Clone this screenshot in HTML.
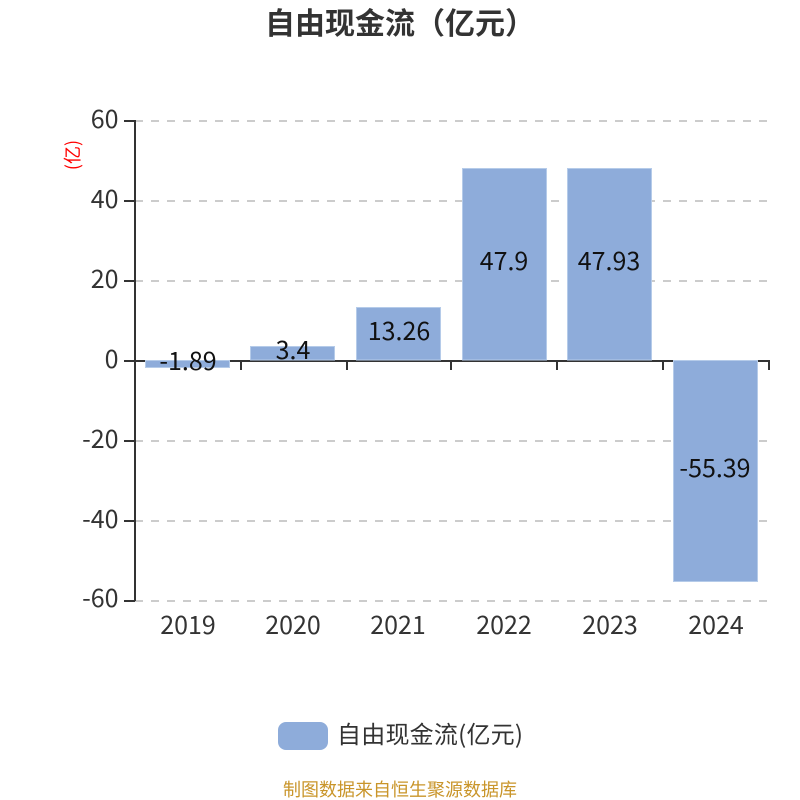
<!DOCTYPE html>
<html><head><meta charset="utf-8">
<style>
html,body{margin:0;padding:0;background:#fff;width:800px;height:800px;overflow:hidden}
svg{display:block}
text{font-family:"Liberation Sans","Noto Sans CJK SC",sans-serif}
.n{font-family:"Noto Sans CJK SC","Liberation Sans",sans-serif}
</style></head><body>
<svg width="800" height="800" viewBox="0 0 800 800" xmlns="http://www.w3.org/2000/svg">
<text x="400" y="34" text-anchor="middle" font-size="30" font-weight="bold" fill="#333" style='font-family:"Noto Sans CJK SC",sans-serif'>自由现金流（亿元）</text>
<text transform="translate(79,155) rotate(-90)" text-anchor="middle" font-size="18" fill="#f00" class="n">(亿)</text>
<g stroke="#ccc" stroke-width="2" stroke-dasharray="8 8">
<path d="M135 121H768M135 201H768M135 281H768M135 441H768M135 521H768M135 601H768"/>
</g>
<g stroke="#333" stroke-width="2" fill="none">
<path d="M135 120V601"/>
<path d="M124 121H135M124 201H135M124 281H135M124 361H770M124 441H135M124 521H135M124 601H135"/>
<path d="M241 361V370M347 361V370M451 361V370M557 361V370M663 361V370M769 361V370"/>
</g>
<g fill="#8eacda" stroke="#b5cbe9" stroke-width="1">
<rect x="145.500" y="360.500" width="84" height="7"/>
<rect x="250.500" y="346.500" width="84" height="13.500"/>
<rect x="356.500" y="307.500" width="84" height="52.500"/>
<rect x="462.500" y="168.500" width="84" height="191.500"/>
<rect x="567.500" y="168.500" width="84" height="191.500"/>
<rect x="673.500" y="360.500" width="84" height="221"/>
</g>
<g font-size="25" fill="#333" text-anchor="end">
<text class="n" x="118.500" y="128">60</text>
<text class="n" x="118.500" y="208">40</text>
<text class="n" x="118.500" y="288">20</text>
<text class="n" x="118.500" y="368">0</text>
<text class="n" x="118.500" y="448">-20</text>
<text class="n" x="118.500" y="528">-40</text>
<text class="n" x="118.500" y="607">-60</text>
</g>
<g font-size="25" fill="#333" text-anchor="middle">
<text class="n" x="188" y="634">2019</text>
<text class="n" x="293" y="634">2020</text>
<text class="n" x="398" y="634">2021</text>
<text class="n" x="504" y="634">2022</text>
<text class="n" x="610" y="634">2023</text>
<text class="n" x="716" y="634">2024</text>
</g>
<g font-size="25" fill="#111" text-anchor="middle">
<text class="n" x="188" y="370">-1.89</text>
<text class="n" x="293" y="359">3.4</text>
<text class="n" x="399" y="340">13.26</text>
<text class="n" x="504" y="270">47.9</text>
<text class="n" x="609" y="270">47.93</text>
<text class="n" x="715" y="477">-55.39</text>
</g>
<rect x="278" y="722" width="50" height="28" rx="8" fill="#8eacda"/>
<text class="n" x="337" y="743" font-size="24" fill="#333" textLength="186">自由现金流(亿元)</text>
<text class="n" x="400" y="796" text-anchor="middle" font-size="18" fill="#c9952a">制图数据来自恒生聚源数据库</text>
</svg>
</body></html>
